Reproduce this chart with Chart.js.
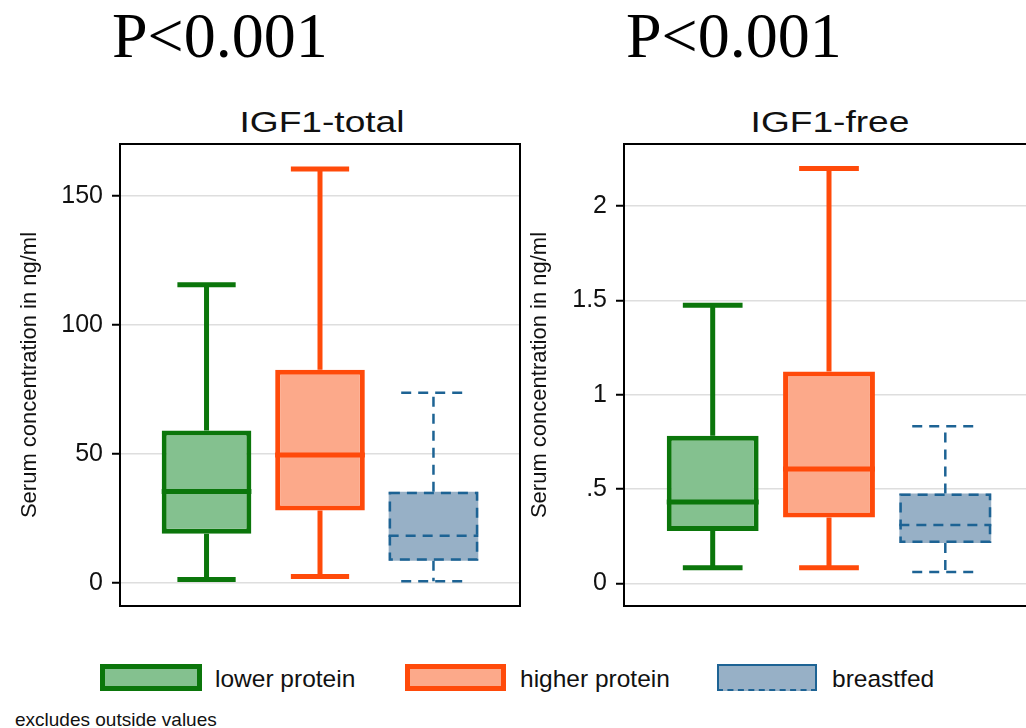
<!DOCTYPE html>
<html>
<head>
<meta charset="utf-8">
<script src="https://cdn.jsdelivr.net/npm/chart.js@4.4.0/dist/chart.umd.min.js"></script>
<style>
html,body{margin:0;padding:0;background:#fff;width:1026px;height:728px;overflow:hidden;position:relative;font-family:"Liberation Sans",Arial,sans-serif;color:#111;}
.pval{position:absolute;top:4px;font-family:"Liberation Serif","Times New Roman",serif;font-size:64px;line-height:1;color:#000;white-space:nowrap;}
.ttl{position:absolute;top:108px;width:200px;text-align:center;font-size:29px;line-height:1;transform:scaleX(1.28);transform-origin:center;white-space:nowrap;}
.panel{position:absolute;top:90px;height:540px;}
.sw{position:absolute;top:664px;height:27px;box-sizing:border-box;}
.lg{position:absolute;top:667px;font-size:24.5px;line-height:1;white-space:nowrap;}
.note{position:absolute;left:15px;top:710px;font-size:19px;line-height:1;white-space:nowrap;}
</style>
</head>
<body>
<div class="pval" style="left:112px">P&lt;0.001</div>
<div class="pval" style="left:626px">P&lt;0.001</div>
<div class="ttl" style="left:222px">IGF1-total</div>
<div class="ttl" style="left:730px">IGF1-free</div>
<div class="panel" style="left:0;width:530px"><canvas id="chartTotal" width="530" height="540"></canvas></div>
<div class="panel" style="left:520px;width:520px"><canvas id="chartFree" width="520" height="540"></canvas></div>

<div class="sw" style="left:100px;width:102px;border:5px solid #0b760b;background:#84c18f"></div>
<div class="lg" style="left:215px">lower protein</div>
<div class="sw" style="left:405px;width:101px;border:5px solid #ff4a0a;background:#fca98a"></div>
<div class="lg" style="left:520px">higher protein</div>
<div class="sw" style="left:717px;width:100px;border:2.5px solid #1d6394;border-bottom-style:dashed;background:#97b0c6"></div>
<div class="lg" style="left:832px">breastfed</div>
<div class="note">excludes outside values</div>

<script>
// Box plot values (IGF1-total in ng/ml, IGF1-free in ng/ml)
const groups = ['lower protein', 'higher protein', 'breastfed'];

const totalLo  = [1.3, 2.4, 0.6];
const totalQ1  = [19, 28, 8.5];
const totalMed = [35.4, 49.5, 18.2];
const totalQ3  = [59, 82.5, 35.3];
const totalHi  = [115.5, 160.3, 73.6];
const totalTicks = [0, 50, 100, 150];

const freeLo  = [0.083, 0.083, 0.06];
const freeQ1  = [0.278, 0.349, 0.214];
const freeMed = [0.432, 0.606, 0.31];
const freeQ3  = [0.783, 1.124, 0.477];
const freeHi  = [1.475, 2.20, 0.833];
const freeTicks = [0, 0.5, 1, 1.5, 2];
const freeTickLabels = ['0', '.5', '1', '1.5', '2'];

const lineColors = ['#0b760b', '#ff4a0a', '#1d6394'];
const fillColors = ['#84c18f', '#fca98a', '#97b0c6'];
const dashed = [false, false, true];

function makeDatasets(lo, q1, med, q3, hi) {
  return groups.map((g, i) => ({
    label: g,
    data: [[q1[i], q3[i]]],
    lo: lo[i], med: med[i], hi: hi[i],
    dashed: dashed[i],
    backgroundColor: fillColors[i],
    borderColor: lineColors[i],
    borderWidth: dashed[i] ? 0 : 5,
    borderSkipped: false,
    categoryPercentage: 0.851,
    barPercentage: 0.79
  }));
}

// whiskers, medians, dashed outline and the plot frame
const boxPlugin = {
  id: 'boxWhiskers',
  beforeDatasetsDraw(chart) {
    const a = chart.chartArea, ctx = chart.ctx;
    ctx.save();
    ctx.strokeStyle = '#000'; ctx.lineWidth = 2;
    ctx.strokeRect(a.left, a.top, a.right - a.left, a.bottom - a.top);
    ctx.restore();
  },
  afterDatasetsDraw(chart) {
    const ctx = chart.ctx, ys = chart.scales.y;
    chart.data.datasets.forEach((ds, i) => {
      const bar = chart.getDatasetMeta(i).data[0];
      const w = bar.width, x = bar.x, l = x - w/2, r = x + w/2;
      const yTop = Math.min(bar.y, bar.base), yBot = Math.max(bar.y, bar.base);
      const yMed = ys.getPixelForValue(ds.med), yHi = ys.getPixelForValue(ds.hi), yLo = ys.getPixelForValue(ds.lo);
      ctx.save();
      ctx.strokeStyle = ds.borderColor;
      ctx.lineCap = 'butt';
      let cap;
      if (ds.dashed) {
        ctx.lineWidth = 2.5;
        ctx.setLineDash([10, 7]);
        ctx.strokeRect(l + 1.25, yTop + 1.25, w - 2.5, yBot - yTop - 2.5);
        cap = w * 0.72;
      } else {
        ctx.lineWidth = 5;
        cap = w * 0.65;
      }
      ctx.beginPath();
      ctx.moveTo(l, yMed); ctx.lineTo(r, yMed);
      ctx.moveTo(x, yTop); ctx.lineTo(x, yHi);
      ctx.moveTo(x - cap/2, yHi); ctx.lineTo(x + cap/2, yHi);
      ctx.moveTo(x, yBot); ctx.lineTo(x, yLo);
      ctx.moveTo(x - cap/2, yLo); ctx.lineTo(x + cap/2, yLo);
      ctx.stroke();
      ctx.restore();
    });
  }
};

function makeChart(id, datasets, yMin, yMax, ticks, tickFmt, axisWidth, titlePad, padRight) {
  return new Chart(document.getElementById(id), {
    type: 'bar',
    data: { labels: [''], datasets: datasets },
    options: {
      responsive: false,
      devicePixelRatio: 1,
      animation: false,
      layout: { padding: { top: 54, bottom: 15, right: padRight, left: 0 } },
      plugins: { legend: { display: false }, tooltip: { enabled: false } },
      scales: {
        x: { display: false },
        y: {
          min: yMin, max: yMax,
          afterBuildTicks: s => { s.ticks = ticks.map(v => ({ value: v })); },
          afterFit: s => { s.width = axisWidth; },
          border: { display: false },
          grid: { color: '#dedede', lineWidth: 1.5, drawTicks: true, tickLength: 8, tickColor: '#000', tickWidth: 2 },
          ticks: { padding: 9, color: '#111', font: { family: 'Liberation Sans', size: 25 }, callback: tickFmt },
          title: { display: true, text: 'Serum concentration in ng/ml', color: '#111',
                   font: { family: 'Liberation Sans', size: 22 }, padding: { top: titlePad, bottom: 0 } }
        }
      }
    },
    plugins: [boxPlugin]
  });
}

makeChart('chartTotal', makeDatasets(totalLo, totalQ1, totalMed, totalQ3, totalHi),
  -9, 170, totalTicks, v => String(v), 120, 17, 10);
makeChart('chartFree', makeDatasets(freeLo, freeQ1, freeMed, freeQ3, freeHi),
  -0.12, 2.33, freeTicks, v => freeTickLabels[freeTicks.indexOf(v)], 104, 7, 6);
</script>
</body>
</html>
